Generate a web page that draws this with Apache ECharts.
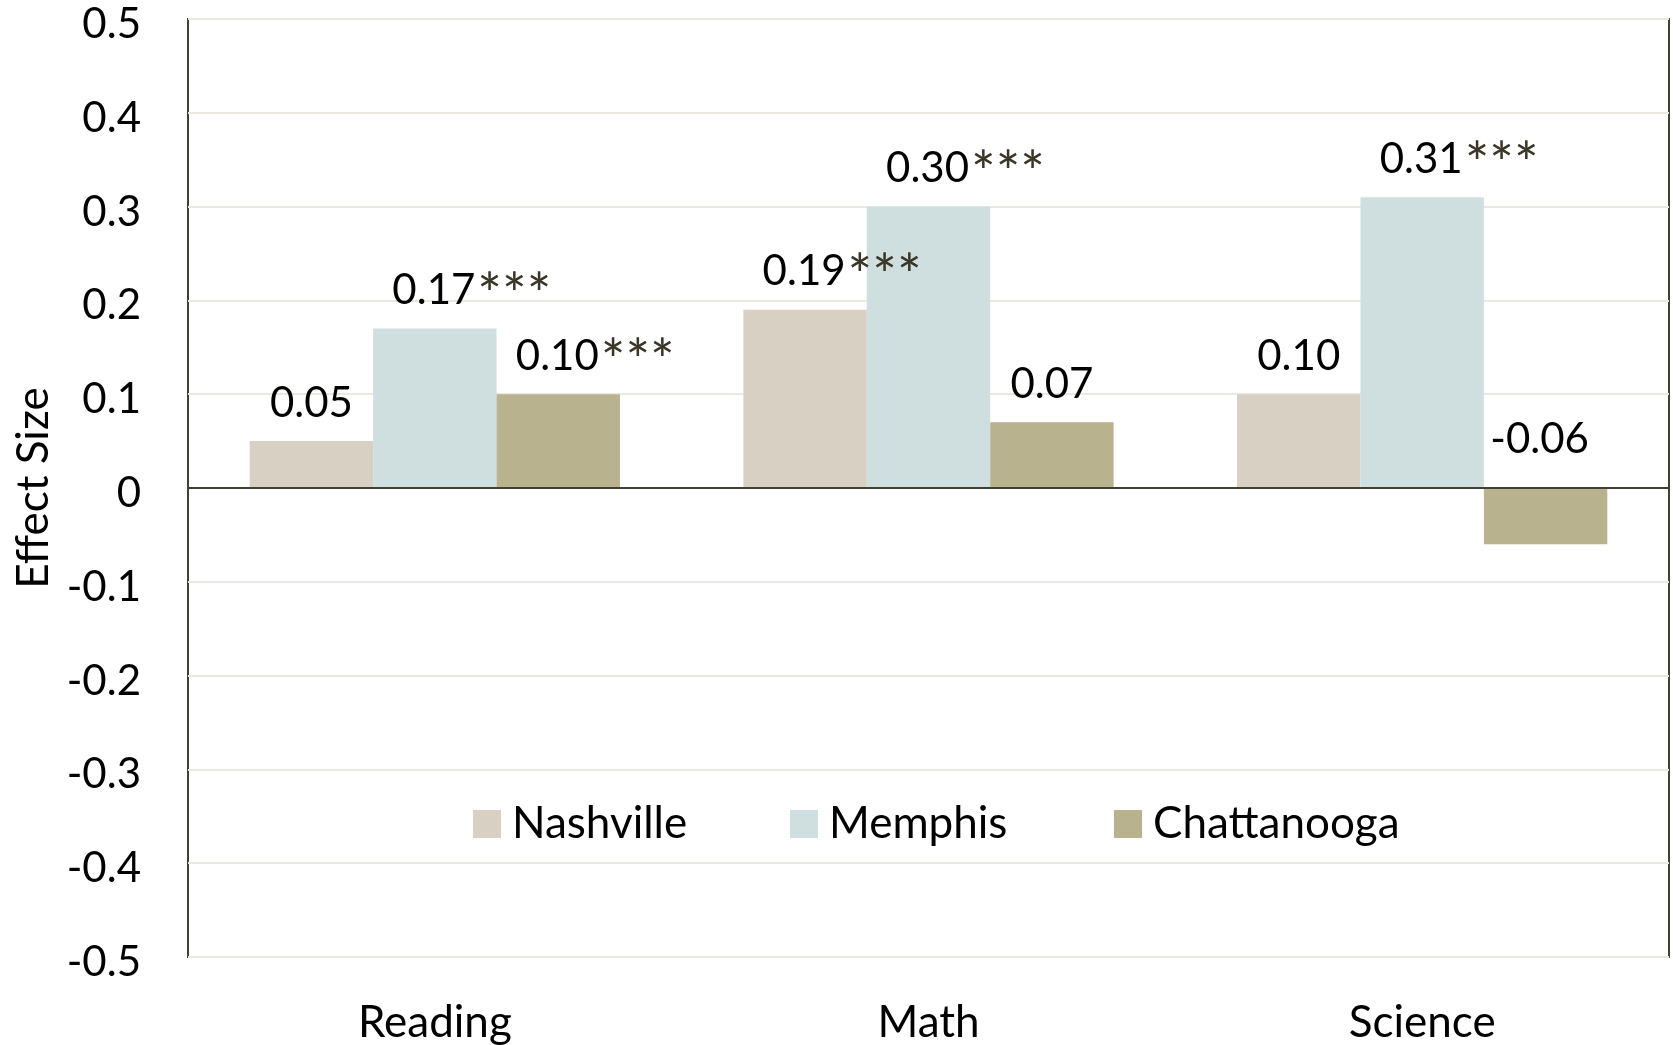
<!DOCTYPE html>
<html>
<head>
<meta charset="utf-8">
<script src="https://cdn.jsdelivr.net/npm/echarts@6/dist/echarts.min.js"></script>
<style>
  html, body { margin: 0; padding: 0; background: #fff; }
  #chart { width: 1673px; height: 1045px; }
</style>
</head>
<body>
<div id="chart"></div>
<script>
// Subjects along the x axis
const subjects = ['Reading', 'Math', 'Science'];

// Effect sizes by city
const nashville = [0.05, 0.19, 0.10];
const memphis = [0.17, 0.30, 0.31];
const chattanooga = [0.10, 0.07, -0.06];

// Significance markers shown after each value
const nashvilleSig = ['', '***', ''];
const memphisSig = ['***', '***', '***'];
const chattanoogaSig = ['***', '', ''];

// Y axis tick labels, from -0.5 to 0.5
const yTickLabels = ['-0.5', '-0.4', '-0.3', '-0.2', '-0.1', '0', '0.1', '0.2', '0.3', '0.4', '0.5'];

const FONT = 'Lato';
const FS = 42;       // numbers
const FS_TEXT = 44;  // words
const AXIS_DARK = '#423f35';

function seriesFor(name, values, sig, color, withZeroLine) {
  const s = {
    name: name,
    type: 'bar',
    barGap: '0%',
    barCategoryGap: '25%',
    itemStyle: { color: color },
    data: values.map((v, i) => {
      const item = { value: v };
      const hasStars = sig[i] !== '';
      item.label = {
        show: true,
        position: 'top',
        distance: v < 0 ? 24 : 13,
        offset: [hasStars ? 37 : (v < 0 ? -6 : 0), 0],
        formatter: () => '{n|' + v.toFixed(2) + '}' + (hasStars ? '{s|' + sig[i] + '}' : ''),
        rich: {
          n: { fontFamily: FONT, fontSize: FS, color: '#000', lineHeight: 50 },
          s: { fontFamily: FONT, fontSize: 58, color: '#3a3628', lineHeight: 50, padding: [12, 0, 0, 2] }
        }
      };
      return item;
    })
  };
  if (withZeroLine) {
    s.markLine = {
      silent: true,
      symbol: 'none',
      label: { show: false },
      lineStyle: { color: AXIS_DARK, width: 2, type: 'solid' },
      data: [{ yAxis: 0 }]
    };
  }
  return s;
}

function legendAt(name, left) {
  return {
    data: [name],
    left: left,
    top: 802,
    padding: 0,
    itemWidth: 28,
    itemHeight: 28,
    icon: 'rect',
    textStyle: { fontFamily: FONT, fontSize: FS_TEXT, color: '#000', padding: [0, 0, 0, 6] }
  };
}

const chart = echarts.init(document.getElementById('chart'), null, { renderer: 'canvas' });

chart.setOption({
  animation: false,
  backgroundColor: '#ffffff',
  grid: {
    left: 188, top: 19, width: 1481, height: 938,
    show: true, borderColor: AXIS_DARK, borderWidth: 2, backgroundColor: 'transparent'
  },
  legend: [
    legendAt('Nashville', 473),
    legendAt('Memphis', 790),
    legendAt('Chattanooga', 1114)
  ],
  xAxis: {
    type: 'category',
    data: subjects,
    axisLine: { show: false },
    axisTick: { show: false },
    axisLabel: { fontFamily: FONT, fontSize: FS_TEXT, color: '#000', margin: 44 },
    splitLine: { show: false }
  },
  yAxis: {
    type: 'value',
    min: -0.5,
    max: 0.5,
    interval: 0.1,
    name: 'Effect Size',
    nameLocation: 'middle',
    nameRotate: 90,
    nameGap: 129,
    nameTextStyle: { fontFamily: FONT, fontSize: FS_TEXT, color: '#000' },
    axisLine: { show: false },
    axisTick: { show: false },
    axisLabel: {
      margin: 47,
      formatter: v => '{t|' + yTickLabels[Math.round((v + 0.5) * 10)] + '}',
      rich: {
        t: { fontFamily: FONT, fontSize: FS, color: '#000', padding: [11, 0, 0, 0] }
      }
    },
    splitLine: { lineStyle: { color: '#ebe7e1', width: 2 } }
  },
  series: [
    seriesFor('Nashville', nashville, nashvilleSig, '#d8d0c3', true),
    seriesFor('Memphis', memphis, memphisSig, '#cfdfdf', false),
    seriesFor('Chattanooga', chattanooga, chattanoogaSig, '#b8b28e', false)
  ]
});
</script>
</body>
</html>
